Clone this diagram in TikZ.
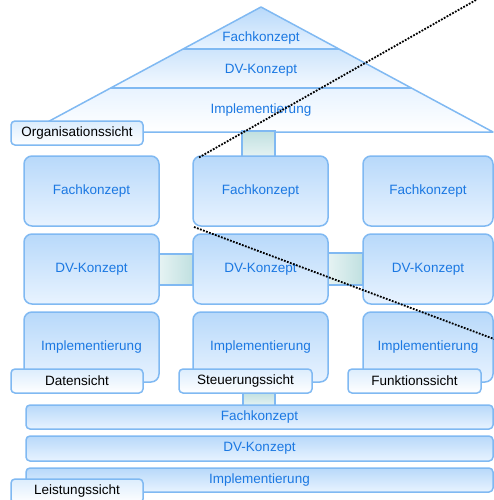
\documentclass[tikz,border=0pt]{standalone}
\usepackage{fontspec}
\setmainfont{Liberation Sans}
\definecolor{bord}{HTML}{80B9F2}
\definecolor{btop}{HTML}{B8D9FA}
\definecolor{bbot}{HTML}{E8F3FF}
\definecolor{txt}{HTML}{1B78E2}
\definecolor{ctl}{HTML}{E6F3F3}
\definecolor{ctr}{HTML}{C0E0E0}
\definecolor{ltop}{HTML}{DCEDFD}
\begin{document}
\begin{tikzpicture}[x=1pt,y=-1pt,
  base/.style={draw=bord, line width=1.5pt, anchor=north west, inner sep=0pt, outer sep=0pt,
    font=\fontsize{13.5}{16}\selectfont},
  box/.style={base, rounded corners=8pt, top color=btop, bottom color=bbot, text=txt,
    minimum width=135pt, minimum height=70pt},
  bar/.style={base, rounded corners=4pt, top color=btop, bottom color=bbot, text=txt,
    minimum width=467pt},
  lbl/.style={base, rounded corners=4pt, top color=ltop, bottom color=white, text=black,
    minimum width=132pt, minimum height=24pt},
  hconn/.style={base, left color=ctl, right color=ctr, rounded corners=0pt},
  vconn/.style={base, top color=ctr, bottom color=ctl, rounded corners=0pt},
  rooftxt/.style={text=txt, font=\fontsize{13.5}{16}\selectfont, inner sep=0pt},
  view/.style={line width=1.8pt, black, dash pattern=on 1.8pt off 1.4pt}
]
\useasboundingbox (0,0) rectangle (494,500);

% roof bands
\path[top color=btop, bottom color=bbot] (183,49) -- (339,49) -- (261,7) -- cycle;
\path[top color=btop!70!white, bottom color=bbot!50!white] (111,88) -- (411,88) -- (339,49) -- (183,49) -- cycle;
\path[top color=bbot, bottom color=white] (29,132) -- (493,132) -- (411,88) -- (111,88) -- cycle;
\draw[bord, line width=1.5pt, line join=round] (29,132) -- (261,7) -- (493,132) -- cycle;
\draw[bord, line width=1.5pt] (183,49) -- (339,49);
\draw[bord, line width=1.5pt] (111,88) -- (411,88);
\node[rooftxt] (rf) at (261,38) {Fachkonzept};
\node[rooftxt] (rd) at (261,70) {DV-Konzept};
\node[rooftxt] (ri) at (261,110) {Implementierung};

% connectors
\node[vconn, minimum width=33pt, minimum height=26pt] (cv1) at (242,131) {};
\node[hconn, minimum width=34pt, minimum height=31pt] (ch1) at (159,254) {};
\node[hconn, minimum width=35pt, minimum height=32pt] (ch2) at (328,253) {};
\node[vconn, minimum width=32pt, minimum height=14pt] (cv2) at (243,392) {};

% columns
\node[box] (lf) at (24,156) {Fachkonzept};
\node[box] (ld) at (24,234) {DV-Konzept};
\node[box] (li) at (24,312) {Implementierung};
\node[box] (mf) at (193,156) {Fachkonzept};
\node[box] (md) at (193,234) {DV-Konzept};
\node[box] (mi) at (193,312) {Implementierung};
\node[box, minimum width=130pt] (rfk) at (363,156) {Fachkonzept};
\node[box, minimum width=130pt] (rdk) at (363,234) {DV-Konzept};
\node[box, minimum width=130pt] (rik) at (363,312) {Implementierung};

% bars
\node[bar, minimum height=24pt] (bf) at (26,405) {Fachkonzept};
\node[bar, minimum height=25pt] (bd) at (26,436) {DV-Konzept};
\node[bar, minimum height=24pt] (bi) at (26,468) {Implementierung};

% labels
\node[lbl] (lo) at (11,121) {Organisationssicht};
\node[lbl] (lds) at (11,369) {Datensicht};
\node[lbl, minimum width=133pt] (lst) at (179,369) {Steuerungssicht};
\node[lbl, minimum width=133pt] (lfu) at (348,369) {Funktionssicht};
\node[lbl] (lle) at (11,479) {Leistungssicht};

% view lines
\coordinate (v1) at (476,0);
\coordinate (v2) at (494,339);
\draw[view] (v1) -- ([shift={(5pt,-2pt)}]mf.north west);
\draw[view] ([shift={(1pt,-1pt)}]mf.south west) -- (v2);
\end{tikzpicture}
\end{document}
